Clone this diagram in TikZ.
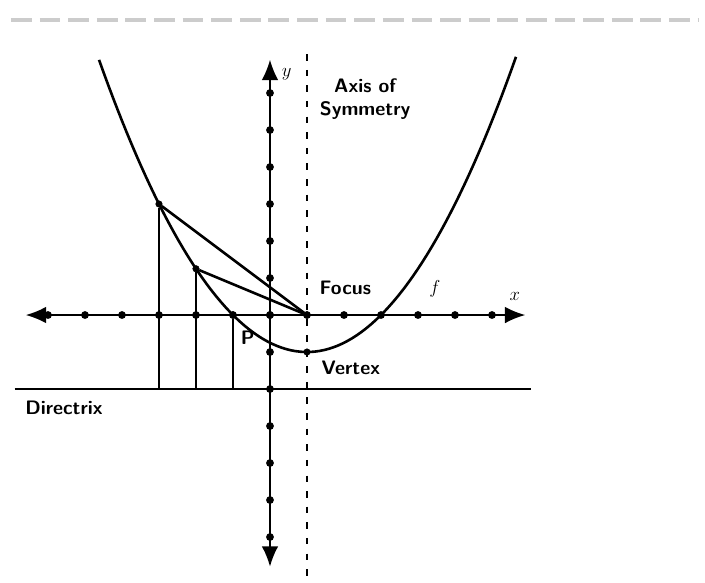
\documentclass[tikz,border=0pt]{standalone}
\usepackage{amssymb,amsmath}
\usepackage{tikz}
\usetikzlibrary{arrows.meta}

\begin{document}
\begin{tikzpicture}[x=1cm,y=1cm,
    vertex/.style={circle,draw,fill=black,minimum size=5pt,inner sep=0pt},
    tick/.style={circle,fill=black,minimum size=6pt,inner sep=0pt},
    lbl/.style={font=\sffamily\bfseries\fontsize{15}{18}\selectfont,inner sep=1pt},
    axis/.style={line width=1.4pt,{Latex[length=5.5mm,width=4.5mm]}-{Latex[length=5.5mm,width=4.5mm]}}]
\useasboundingbox (-7.297,-7.216) rectangle (11.757,8.514);
% faded caption line at the top
\draw[gray!40,line width=2.5pt,dash pattern=on 16pt off 6pt] (-7.0,7.97) -- (11.6,7.97);
% axes
\coordinate (xl) at (-6.6,0);
\coordinate (xr) at (6.9,0);
\coordinate (yt) at (0,6.9);
\coordinate (yb) at (0,-6.8);
\draw[axis] (xl) -- (xr);
\draw[axis] (yb) -- (yt);
\foreach \i in {-6,...,6} {
  \node[tick] at (\i,0) {};
  \node[tick] at (0,\i) {};
}
% axis of symmetry and directrix
\coordinate (st) at (1,7.05);
\coordinate (sb) at (1,-7.15);
\draw[line width=1.5pt,dash pattern=on 5pt off 7pt] (st) -- (sb);
\coordinate (dl) at (-6.9,-2);
\coordinate (dr) at (7.05,-2);
\draw[line width=2.2pt] (dl) -- (dr);
% parabola
\draw[line width=2pt,domain=-4.62:6.65,samples=90] plot (\x,{-1+(\x-1)^2/4});
\node[vertex] (F) at (1,0) {};
\node[vertex] (V) at (1,-1) {};
\node[vertex] (P1) at (-3,3) {};
\node[vertex] (P2) at (-2,1.25) {};
\node[vertex] (P3) at (-1,0) {};
\coordinate (D1) at (-3,-2);
\coordinate (D2) at (-2,-2);
\coordinate (D3) at (-1,-2);
\draw[line width=2pt] (P1) -- (F);
\draw[line width=2pt] (P2) -- (F);
\draw[line width=2pt] (P3) -- (F);
\draw[line width=2pt] (P1) -- (D1);
\draw[line width=2pt] (P2) -- (D2);
\draw[line width=2pt] (P3) -- (D3);
% labels
\node[lbl,align=center] (axlbl) at (2.57,5.84) {Axis of\\Symmetry};
\node[lbl,anchor=west] (flbl) at (1.3,0.73) {Focus};
\node[lbl,anchor=west] (vlbl) at (1.35,-1.43) {Vertex};
\node[lbl,anchor=west] (dlbl) at (-6.65,-2.5) {Directrix};
\node[font=\bfseries\fontsize{15}{17}\selectfont] (ylbl) at (0.45,6.5) {$y$};
\node[font=\bfseries\fontsize{15}{17}\selectfont] (xlbl) at (6.62,0.5) {$x$};
\node[lbl] (plbl) at (-0.6,-0.62) {P};
\node[font=\bfseries\fontsize{15}{17}\selectfont] (clbl) at (4.46,0.72) {$f$};
\end{tikzpicture}
\end{document}
